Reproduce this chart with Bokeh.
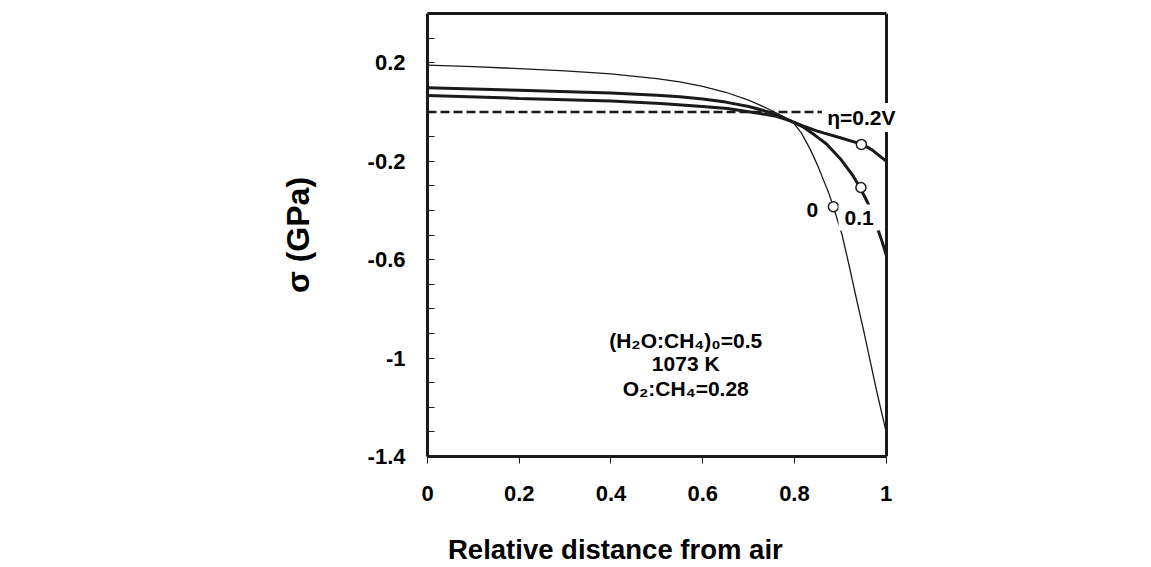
from bokeh.plotting import figure
from bokeh.layouts import column
from bokeh.models import LinearAxis, FixedTicker, Label, Range1d
from bokeh.embed import file_html
from bokeh.resources import INLINE

# ---- data ----
x_eta0 = [0, 0.1, 0.2, 0.3, 0.4, 0.5, 0.55, 0.6, 0.65, 0.7, 0.725, 0.75, 0.775, 0.797,
          0.815, 0.834, 0.85, 0.863, 0.875, 0.885, 0.904, 0.92, 0.937, 0.95, 0.965, 0.98, 1.0]
y_eta0 = [0.19, 0.184, 0.176, 0.167, 0.155, 0.135, 0.122, 0.104, 0.08, 0.048, 0.028, 0.006, -0.018, -0.042,
          -0.085, -0.15, -0.215, -0.275, -0.33, -0.385, -0.5, -0.63, -0.775, -0.88, -1.01, -1.14, -1.3]

x_eta01 = [0, 0.2, 0.4, 0.5, 0.55, 0.6, 0.65, 0.7, 0.725, 0.76, 0.79, 0.82, 0.845, 0.87,
           0.9, 0.928, 0.943, 0.96, 0.975, 0.99, 1.0]
y_eta01 = [0.098, 0.088, 0.077, 0.068, 0.062, 0.053, 0.04, 0.022, 0.01, -0.01, -0.035, -0.062, -0.095, -0.13,
           -0.19, -0.26, -0.307, -0.37, -0.44, -0.52, -0.58]

x_eta02 = [0, 0.2, 0.4, 0.508, 0.6, 0.654, 0.725, 0.76, 0.79, 0.82, 0.85, 0.9, 0.948, 0.97, 1.0]
y_eta02 = [0.067, 0.055, 0.044, 0.034, 0.022, 0.014, -0.006, -0.018, -0.035, -0.058, -0.078, -0.105, -0.132, -0.155, -0.2]

x_ref = [0, 0.86]
y_ref = [0, 0]

marker_x = [0.885, 0.945, 0.946]
marker_y = [-0.385, -0.307, -0.132]

x_ticks = [0, 0.2, 0.4, 0.6, 0.8, 1.0]
x_tick_labels = ["0", "0.2", "0.4", "0.6", "0.8", "1"]
y_ticks = [-1.4, -1.0, -0.6, -0.2, 0.2]
y_tick_labels = ["-1.4", "-1", "-0.6", "-0.2", "0.2"]
y_minor = [-1.3, -1.2, -1.1, -0.9, -0.8, -0.7, -0.5, -0.4, -0.3, -0.1, 0.0, 0.1, 0.3]

FONT = "Liberation Sans"
INK = "#1a1a1a"

W, H = 1145, 520
p = figure(width=W, height=H, x_range=Range1d(0, 1.04), y_range=Range1d(-1.4, 0.4),
           output_backend="svg", toolbar_location=None,
           x_axis_location=None, y_axis_location=None,
           min_border_left=427, min_border_right=W - 904, min_border_top=13, min_border_bottom=H - 456)
p.grid.visible = False
p.outline_line_color = None
p.background_fill_color = "white"
p.border_fill_color = "white"

# axes
xaxis = LinearAxis(ticker=FixedTicker(ticks=x_ticks), bounds=(0, 1),
                   major_label_overrides=dict(zip(x_ticks, x_tick_labels)))
xaxis.axis_line_width = 3
xaxis.axis_line_color = INK
xaxis.major_tick_out = 7
xaxis.major_tick_in = 0
xaxis.major_tick_line_color = INK
xaxis.minor_tick_line_color = None
xaxis.major_label_standoff = 22
xaxis.major_label_text_font = FONT
xaxis.major_label_text_font_style = "bold"
xaxis.major_label_text_font_size = "22px"
xaxis.major_label_text_color = "black"
p.add_layout(xaxis, "below")

yaxis = LinearAxis(ticker=FixedTicker(ticks=y_ticks, minor_ticks=y_minor),
                   major_label_overrides=dict(zip(y_ticks, y_tick_labels)),
                   axis_label="σ (GPa)")
yaxis.axis_line_width = 3
yaxis.axis_line_color = INK
yaxis.major_tick_out = 0
yaxis.major_tick_in = 7
yaxis.minor_tick_out = 0
yaxis.minor_tick_in = 7
yaxis.major_tick_line_color = INK
yaxis.minor_tick_line_color = INK
yaxis.major_label_standoff = 22
yaxis.major_label_text_font = FONT
yaxis.major_label_text_font_style = "bold"
yaxis.major_label_text_font_size = "22px"
yaxis.major_label_text_color = "black"
yaxis.axis_label_text_font = FONT
yaxis.axis_label_text_font_style = "bold"
yaxis.axis_label_text_font_size = "32px"
yaxis.axis_label_text_color = "black"
yaxis.axis_label_standoff = 49
p.add_layout(yaxis, "left")

# top and right frame lines (right one sits at x = 1)
top = LinearAxis(ticker=FixedTicker(ticks=[]), bounds=(0, 1), major_tick_out=0, major_tick_in=0,
                 minor_tick_out=0, minor_tick_in=0, major_label_standoff=0,
                 axis_label_standoff=0, major_label_text_font_size="0px")
top.axis_line_width = 3
top.axis_line_color = INK
p.add_layout(top, "above")

right = LinearAxis(ticker=FixedTicker(ticks=[]), fixed_location=1.0, major_tick_out=0, major_tick_in=0,
                   minor_tick_out=0, minor_tick_in=0, major_label_standoff=0,
                   axis_label_standoff=0, major_label_text_font_size="0px")
right.axis_line_width = 3
right.axis_line_color = INK
p.add_layout(right, "right")

# curves
p.line(x_ref, y_ref, line_color=INK, line_width=2.5, line_dash="9 4")
p.line(x_eta0, y_eta0, line_color=INK, line_width=1.3)
p.line(x_eta01, y_eta01, line_color=INK, line_width=3)
p.line(x_eta02, y_eta02, line_color=INK, line_width=3)
p.scatter(marker_x, marker_y, marker="circle", size=10, fill_color="white",
          line_color=INK, line_width=1.5)

# labels with white background
def lab(x, y, text, align="center", pad=4, size="21px"):
    l = Label(x=x, y=y, text=text, text_align=align, text_baseline="middle",
              text_font=FONT, text_font_style="bold", text_font_size=size,
              text_color="black", background_fill_color="white", padding=pad)
    p.add_layout(l)
    return l

lab(0.865, -0.0226, "η=0.2V", align="left", pad=3)
lab(0.839, -0.40, "0", pad=5)
lab(0.941, -0.429, "0.1", pad=6)

# condition annotation
for yy, t in [(-0.929, "(H₂O:CH₄)₀=0.5"), (-1.022, "1073 K"), (-1.124, "O₂:CH₄=0.28")]:
    p.add_layout(Label(x=0.563, y=yy, text=t, text_align="center", text_baseline="middle",
                       text_font=FONT, text_font_style="bold", text_font_size="21px",
                       text_color="black"))

# strip below the chart carrying the x-axis title where the original puts it
H2 = 45
p2 = figure(width=W, height=H2, x_range=p.x_range, y_range=Range1d(0, 1),
            output_backend="svg", toolbar_location=None,
            x_axis_location=None, y_axis_location=None,
            min_border_left=427, min_border_right=W - 904, min_border_top=0, min_border_bottom=0)
p2.grid.visible = False
p2.outline_line_color = None
p2.background_fill_color = "white"
p2.border_fill_color = "white"
p2.add_layout(Label(x=0.4096, y=0.36, text="Relative distance from air", text_align="center",
                    text_baseline="middle", text_font=FONT, text_font_style="bold",
                    text_font_size="27.5px", text_color="black"))

layout = column(p, p2, spacing=0)
open("out.html", "w").write(file_html(layout, INLINE))
